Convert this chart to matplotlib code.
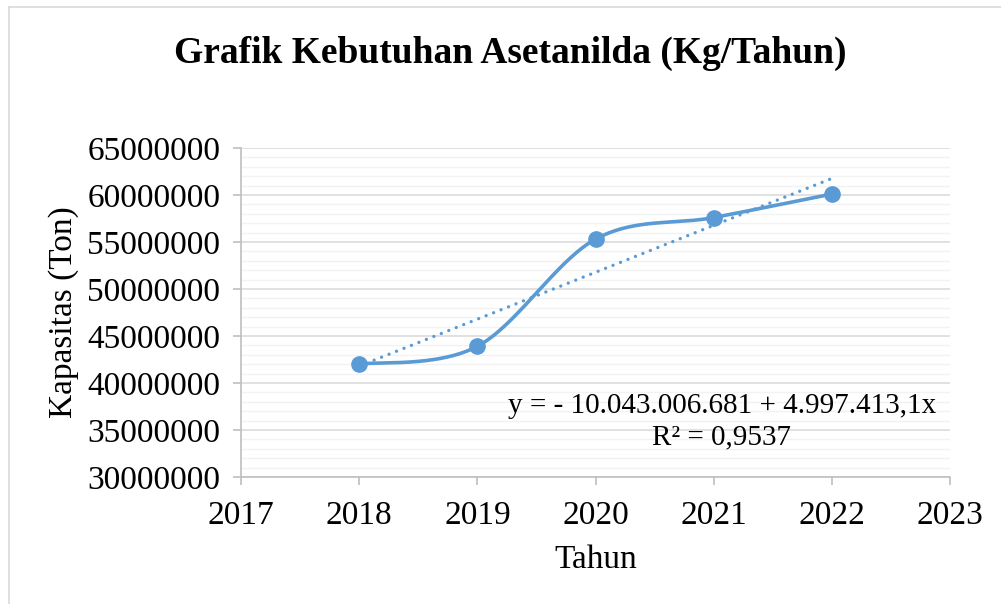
import numpy as np
import matplotlib
matplotlib.use("Agg")
import matplotlib.pyplot as plt
from matplotlib.ticker import MultipleLocator, FuncFormatter
from matplotlib.lines import Line2D

# ---- data ----
years = [2018, 2019, 2020, 2021, 2022]
kapasitas = [42000000, 43900000, 55300000, 57600000, 60100000]
x_ticks = [2017, 2018, 2019, 2020, 2021, 2022, 2023]
y_ticks = [30000000, 35000000, 40000000, 45000000, 50000000, 55000000, 60000000, 65000000]
title = "Grafik Kebutuhan Asetanilda (Kg/Tahun)"
xlabel = "Tahun"
ylabel = "Kapasitas (Ton)"
eq_text = "y = - 10.043.006.681 + 4.997.413,1x"
r2_text = "R² = 0,9537"

BLUE = "#5B9BD5"
plt.rcParams['font.family'] = ['Liberation Serif', 'DejaVu Serif']

W, H = 1001, 604
fig = plt.figure(figsize=(W / 100, H / 100), dpi=100)
ax = fig.add_axes([241 / W, 1 - 477 / H, (950 - 241) / W, (477 - 148) / H])

# Excel-like smoothed line (Catmull-Rom / Bezier)
xs = np.array(years, dtype=float)
ys = np.array(kapasitas, dtype=float)
px = np.concatenate([[xs[0]], xs, [xs[-1]]])
py = np.concatenate([[ys[0]], ys, [ys[-1]]])
cx, cy = [], []
t = np.linspace(0, 1, 60)
for i in range(1, len(px) - 2):
    p0 = np.array([px[i], py[i]])
    p3 = np.array([px[i + 1], py[i + 1]])
    p1 = p0 + (np.array([px[i + 1], py[i + 1]]) - np.array([px[i - 1], py[i - 1]])) / 6
    p2 = p3 - (np.array([px[i + 2], py[i + 2]]) - np.array([px[i], py[i]])) / 6
    b = ((1 - t) ** 3)[:, None] * p0 + (3 * (1 - t) ** 2 * t)[:, None] * p1 \
        + (3 * (1 - t) * t ** 2)[:, None] * p2 + (t ** 3)[:, None] * p3
    cx.extend(b[:, 0]); cy.extend(b[:, 1])
ax.plot(cx, cy, color=BLUE, lw=2.6, solid_capstyle='round', zorder=3)
ax.plot(xs, ys, 'o', color=BLUE, ms=11, zorder=4)

# linear trendline
slope, intercept = np.polyfit(xs, ys, 1)
tx = np.array([xs[0], xs[-1]])
ax.plot(tx, intercept + slope * tx, color=BLUE, lw=2.4,
        linestyle=(0, (0.01, 2.4)), dash_capstyle='round', zorder=3)

ax.set_xlim(x_ticks[0], x_ticks[-1])
ax.set_ylim(y_ticks[0], y_ticks[-1])
ax.set_xticks(x_ticks)
ax.set_yticks(y_ticks)
ax.yaxis.set_minor_locator(MultipleLocator(1000000))
ax.yaxis.set_major_formatter(FuncFormatter(lambda v, p: f"{int(round(v))}"))
ax.grid(True, which='major', axis='y', color='#D9D9D9', lw=1.1, zorder=0)
ax.grid(True, which='minor', axis='y', color='#F2F2F2', lw=1.0, zorder=0)
ax.set_axisbelow(True)
for s in ['top', 'right']:
    ax.spines[s].set_visible(False)
for s in ['left', 'bottom']:
    ax.spines[s].set_color('#BFBFBF')
    ax.spines[s].set_linewidth(1.2)
ax.tick_params(axis='both', which='major', colors='#BFBFBF', labelcolor='black',
               labelsize=24, length=6, width=1.2, direction='out')
ax.tick_params(axis='y', which='minor', length=0)
ax.tick_params(axis='x', pad=11)
ax.tick_params(axis='y', pad=9)

ax.set_xlabel(xlabel, fontsize=24, labelpad=10)
ax.set_ylabel(ylabel, fontsize=24, labelpad=6)

fig.text(510 / W, 1 - 53 / H, title, ha='center', va='center', fontsize=27, fontweight='bold')
fig.text(722 / W, 1 - 406 / H, eq_text, ha='center', va='center', fontsize=21)
fig.text(722 / W, 1 - 437 / H, r2_text, ha='center', va='center', fontsize=21)

# outer chart border (left and top visible)
fig.add_artist(Line2D([9 / W, 9 / W], [0, 1 - 7 / H], transform=fig.transFigure, color='#D9D9D9', lw=1.2))
fig.add_artist(Line2D([9 / W, 1], [1 - 7 / H, 1 - 7 / H], transform=fig.transFigure, color='#D9D9D9', lw=1.2))

fig.savefig("out.png", dpi=100, facecolor='white')
